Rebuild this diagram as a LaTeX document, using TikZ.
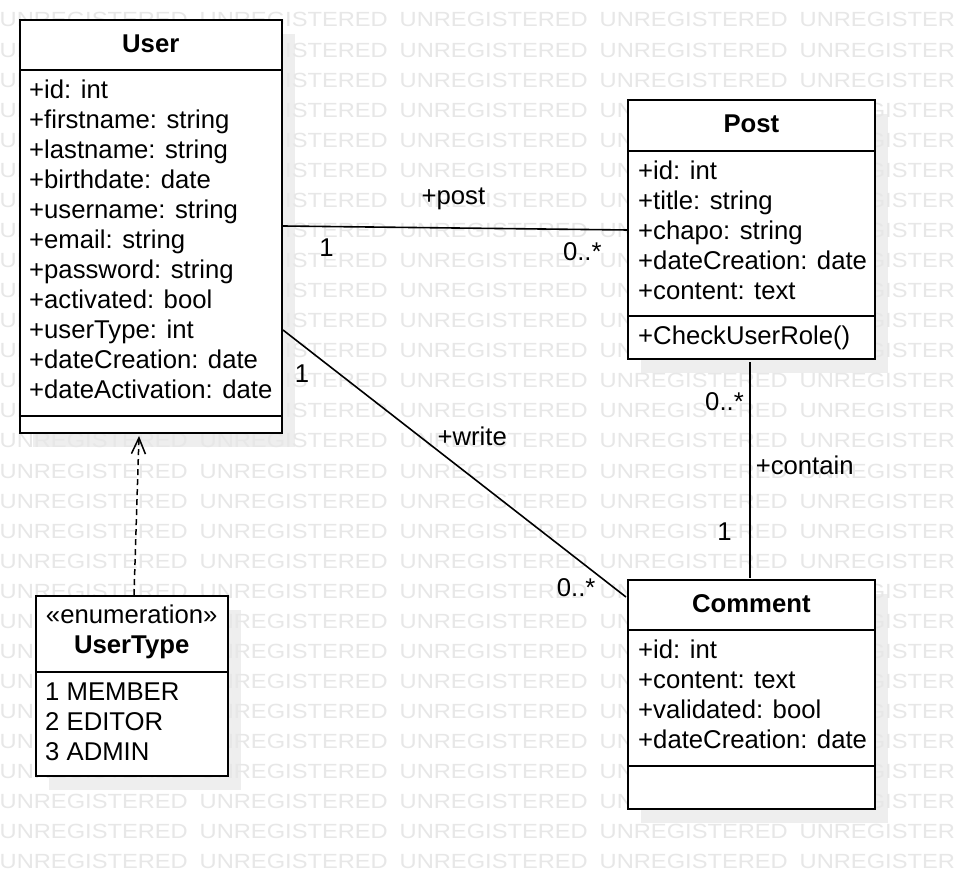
\documentclass[tikz,border=0pt]{standalone}
\usepackage{fontspec}
\setmainfont{Liberation Sans}
\newfontfamily\wmfont[FakeStretch=1.155]{Liberation Sans}
\usetikzlibrary{arrows.meta,calc}
\definecolor{wmgray}{gray}{0.905}
\definecolor{shadowgray}{gray}{0.935}
\begin{document}
\begin{tikzpicture}[x=1pt,y=-1pt,
  umlbox/.style={draw=black, fill=white, line width=2pt, rectangle, inner sep=0pt, outer sep=0pt},
  sep/.style={draw=black, line width=2pt},
  attr/.style={anchor=base west, inner sep=0pt, font=\fontsize{25.7}{30}\selectfont},
  title/.style={anchor=base, inner sep=0pt, font=\fontsize{25.7}{30}\selectfont\bfseries},
  lbl/.style={anchor=base, inner sep=0pt, font=\fontsize{25.7}{30}\selectfont},
  wm/.style={anchor=base west, inner sep=0pt, text=wmgray, font=\wmfont\fontsize{20.5}{24}\selectfont},
  assoc/.style={draw=black, line width=1.6pt},
  dep/.style={draw=black, line width=1.5pt, dash pattern=on 6pt off 4pt, -{Straight Barb[length=16pt,width=14pt]}}
]
\useasboundingbox (0,0) rectangle (954,890);
\fill[white] (0,0) rectangle (954,890);
% shadows
\fill[shadowgray] (33,34) rectangle (294.5,447);
\fill[shadowgray] (640.7,114) rectangle (888,373);
\fill[shadowgray] (640.7,594) rectangle (888,823);
\fill[shadowgray] (48.7,609.7) rectangle (240.7,789.7);
% watermark
\foreach \r in {0,...,28}{
  \foreach \c in {0,...,4}{
    \node[wm] (wm-\r-\c) at ({200*\c-0.5}, {27+30.07*\r}) {UNREGISTERED};
  }
}
% boxes
\node[umlbox, minimum width=261.5pt, minimum height=413pt] (user) at (150.75,226.5) {};
\node[umlbox, minimum width=247.3pt, minimum height=259pt] (post) at (751.35,229.5) {};
\node[umlbox, minimum width=247.3pt, minimum height=229pt] (comment) at (751.35,694.5) {};
\node[umlbox, minimum width=192pt, minimum height=180pt] (usertype) at (131.7,685.7) {};
% compartments
\draw[sep] ([shift={(0,50)}]user.north west) -- ([shift={(0,50)}]user.north east);
\draw[sep] ([shift={(0,-17)}]user.south west) -- ([shift={(0,-17)}]user.south east);
\draw[sep] ([shift={(0,50.7)}]post.north west) -- ([shift={(0,50.7)}]post.north east);
\draw[sep] ([shift={(0,-43.3)}]post.south west) -- ([shift={(0,-43.3)}]post.south east);
\draw[sep] ([shift={(0,50)}]comment.north west) -- ([shift={(0,50)}]comment.north east);
\draw[sep] ([shift={(0,-43.3)}]comment.south west) -- ([shift={(0,-43.3)}]comment.south east);
\draw[sep] ([shift={(0,76)}]usertype.north west) -- ([shift={(0,76)}]usertype.north east);
% User
\node[title] (user-title) at (150.75,52.7) {User};
\foreach \t [count=\i from 0] in {+id: int,+firstname: string,+lastname: string,+birthdate: date,+username: string,+email: string,+password: string,+activated: bool,+userType: int,+dateCreation: date,+dateActivation: date}{
  \node[attr] (user-a\i) at (29,{99+30*\i}) {\t};
}
% Post
\node[title] (post-title) at (751.35,132.7) {Post};
\foreach \t [count=\i from 0] in {+id: int,+title: string,+chapo: string,+dateCreation: date,+content: text}{
  \node[attr] (post-a\i) at (638,{179.3+30*\i}) {\t};
}
\node[attr] (post-m0) at (638,344.3) {+CheckUserRole()};
% Comment
\node[title] (comment-title) at (751.35,612.7) {Comment};
\foreach \t [count=\i from 0] in {+id: int,+content: text,+validated: bool,+dateCreation: date}{
  \node[attr] (comment-a\i) at (638,{658.3+30*\i}) {\t};
}
% UserType
\node[lbl] (usertype-stereo) at (131.7,623.3) {«enumeration»};
\node[title] (usertype-title) at (131.7,653.3) {UserType};
\foreach \t [count=\i from 0] in {1 MEMBER,2 EDITOR,3 ADMIN}{
  \node[attr] (usertype-v\i) at (45,{700+30*\i}) {\t};
}
% connectors
\draw[assoc] ([shift={(1.5,206)}]user.north east) -- ([shift={(0,130)}]post.north west);
\draw[assoc] ([shift={(1.5,310)}]user.north east) -- ([shift={(-1.7,17)}]comment.north west);
\draw[assoc] ([shift={(-1.35,3.5)}]post.south) -- ([shift={(-1.35,-2)}]comment.north);
\draw[dep] ([shift={(2.3,-0.7)}]usertype.north) -- ([shift={(-11.75,3)}]user.south);
% labels
\node[lbl] (l-post) at (453.4,205) {+post};
\node[lbl] (l-post-1) at (326.4,256.7) {1};
\node[lbl] (l-post-n) at (582.3,260.7) {0..*};
\node[lbl] (l-write-1) at (302,382.7) {1};
\node[lbl] (l-write) at (472.2,446) {+write};
\node[lbl] (l-write-n) at (576.2,596.7) {0..*};
\node[lbl] (l-contain-n) at (724.5,410.7) {0..*};
\node[lbl] (l-contain) at (804.7,475) {+contain};
\node[lbl] (l-contain-1) at (724.4,541) {1};
\end{tikzpicture}
\end{document}
